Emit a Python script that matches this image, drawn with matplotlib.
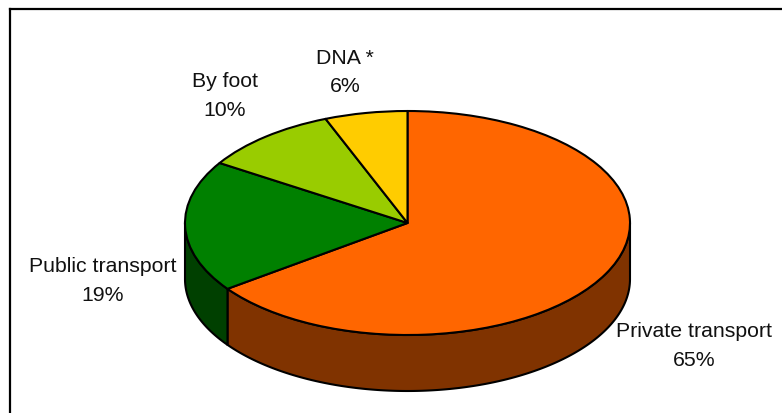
import numpy as np
import matplotlib
matplotlib.use("Agg")
import matplotlib.pyplot as plt
from matplotlib.lines import Line2D
from matplotlib.patches import Polygon

plt.rcParams['font.family'] = ['Liberation Sans', 'DejaVu Sans']

categories = ["Private transport", "Public transport", "By foot", "DNA *"]
values = [65, 19, 10, 6]
top_colors = ["#FF6600", "#008000", "#99CC00", "#FFCC00"]
side_colors = ["#803300", "#004000", "#4C6600", "#806600"]

W, H = 782, 413
CX, CY, RX, RY, DEPTH = 407.5, 223, 222.5, 112, 56
label_px = [(694, 346), (102.5, 281), (225, 96), (345, 72.5)]

fig = plt.figure(figsize=(W / 100, H / 100), dpi=100, facecolor="white")
ax = fig.add_axes([0, 0, 1, 1])
LW = 1.5
wedges, _ = ax.pie(values, startangle=90, counterclock=False, colors=top_colors, radius=1,
                   wedgeprops=dict(edgecolor="black", linewidth=LW, joinstyle="round", zorder=3))
ax.set_aspect("auto")
ax.set_xlim(-CX / RX, (W - CX) / RX)
ax.set_ylim(-(H - CY) / RY, CY / RY)
ax.set_axis_off()

d = DEPTH / RY
for w, col in zip(wedges, side_colors):
    for lo, hi in [(-180, 0), (180, 360)]:
        a, b = max(w.theta1, lo), min(w.theta2, hi)
        if b <= a:
            continue
        t = np.radians(np.linspace(a, b, 200))
        x, y = np.cos(t), np.sin(t)
        pts = np.r_[np.c_[x, y], np.c_[x[::-1], y[::-1] - d]]
        ax.add_patch(Polygon(pts, closed=True, facecolor=col, edgecolor="black",
                             linewidth=LW, zorder=2))

for name, v, (px, py) in zip(categories, values, label_px):
    fig.text(px / W, 1 - py / H, f"{name}\n{v}%", ha="center", va="center", ma="center",
             fontsize=15.3, color="#111111", linespacing=1.62)

fx, fy = 9.5 / W, 1 - 9 / H
fig.add_artist(Line2D([fx, fx], [0, fy], color="black", lw=1.6))
fig.add_artist(Line2D([fx, 1], [fy, fy], color="black", lw=1.6))

fig.savefig("out.png", dpi=100)
